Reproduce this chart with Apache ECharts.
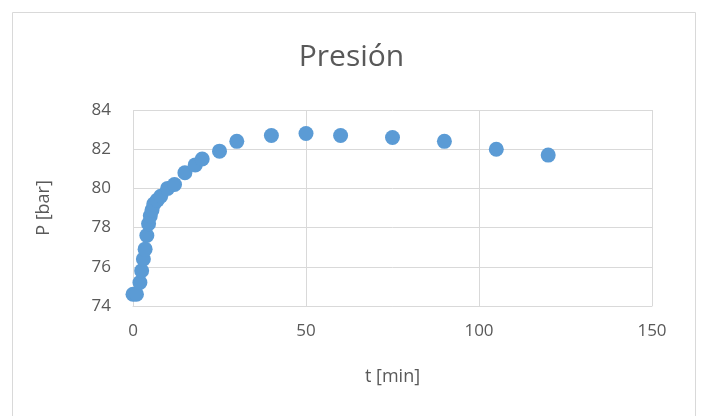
<!DOCTYPE html>
<html>
<head>
<meta charset="utf-8">
<script src="https://cdn.jsdelivr.net/npm/echarts@6/dist/echarts.min.js"></script>
<style>
  html, body { margin: 0; padding: 0; background: #ffffff; }
  #chart { width: 703px; height: 416px; }
</style>
</head>
<body>
<div id="chart"></div>
<script>
// Pressure measurements over time
const tMin = [0, 1, 2, 2.5, 3, 3.5, 4, 4.5, 5, 5.5, 6, 7, 8, 10, 12, 15, 18, 20, 25, 30, 40, 50, 60, 75, 90, 105, 120];
const pBar = [74.6, 74.6, 75.2, 75.8, 76.4, 76.9, 77.6, 78.2, 78.6, 78.9, 79.2, 79.4, 79.6, 80.0, 80.2, 80.8, 81.2, 81.5, 81.9, 82.4, 82.7, 82.8, 82.7, 82.6, 82.4, 82.0, 81.7];

const xTicks = [0, 50, 100, 150];
const yTicks = [74, 76, 78, 80, 82, 84];

const font = '"Open Sans", "Liberation Sans", sans-serif';
const textColor = '#595959';
const gridColor = '#d9d9d9';

const points = tMin.map((t, i) => [t, pBar[i]]);

const chart = echarts.init(document.getElementById('chart'), null, { renderer: 'canvas' });
chart.setOption({
  animation: false,
  backgroundColor: '#ffffff',
  title: {
    text: 'Presión',
    left: 'center',
    top: 37,
    textStyle: { fontFamily: font, fontSize: 30, fontWeight: 'normal', color: textColor }
  },
  graphic: [{
    type: 'rect',
    shape: { x: 12.5, y: 12.5, width: 683, height: 420 },
    style: { fill: 'none', stroke: '#d9d9d9', lineWidth: 1 },
    silent: true
  }],
  grid: { left: 133, right: 51, top: 110, bottom: 110 },
  xAxis: {
    type: 'value',
    min: xTicks[0],
    max: xTicks[xTicks.length - 1],
    interval: 50,
    name: 't [min]',
    nameLocation: 'middle',
    nameGap: 62,
    nameTextStyle: { fontFamily: font, fontSize: 18, color: textColor },
    axisLine: { show: true, lineStyle: { color: gridColor, width: 1 } },
    axisTick: { show: false },
    axisLabel: { fontFamily: font, fontSize: 17, color: textColor, margin: 17 },
    splitLine: { show: true, lineStyle: { color: gridColor, width: 1 } }
  },
  yAxis: {
    type: 'value',
    min: yTicks[0],
    max: yTicks[yTicks.length - 1],
    interval: 2,
    name: 'P [bar]',
    nameLocation: 'middle',
    nameGap: 80,
    nameTextStyle: { fontFamily: font, fontSize: 18, color: textColor },
    axisLine: { show: false },
    axisTick: { show: false },
    axisLabel: { fontFamily: font, fontSize: 17, color: textColor, margin: 22 },
    splitLine: { show: true, lineStyle: { color: gridColor, width: 1 } }
  },
  series: [{
    type: 'scatter',
    data: points,
    symbol: 'circle',
    symbolSize: 15,
    itemStyle: { color: '#5b9bd5', opacity: 1 }
  }]
});
</script>
</body>
</html>
